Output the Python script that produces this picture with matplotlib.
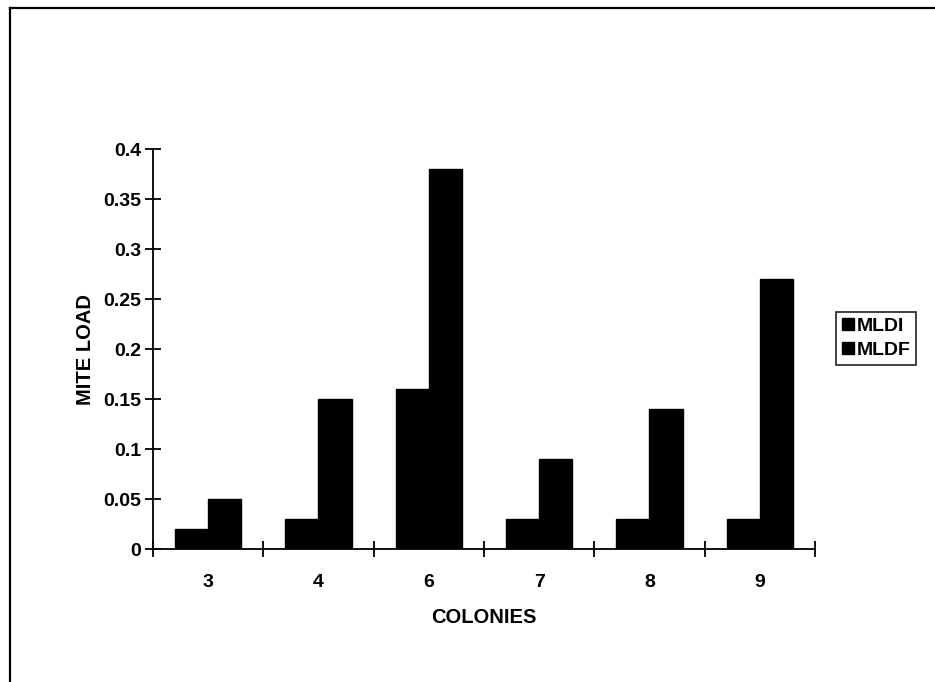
import numpy as np
import matplotlib
matplotlib.use('Agg')
import matplotlib.pyplot as plt
from matplotlib.lines import Line2D

# data
colonies = ['3', '4', '6', '7', '8', '9']
mldi = [0.02, 0.03, 0.16, 0.03, 0.03, 0.03]
mldf = [0.05, 0.15, 0.38, 0.09, 0.14, 0.27]

plt.rcParams['font.family'] = ['Liberation Sans', 'DejaVu Sans']

fig = plt.figure(figsize=(9.35, 6.82), dpi=100)
ax = fig.add_axes([0.1636, 0.195, 0.708, 0.5865])

x = np.arange(len(colonies))
w = 0.3
ax.bar(x - w / 2, mldi, w, color='black', edgecolor='black', label='MLDI')
ax.bar(x + w / 2, mldf, w, color='black', edgecolor='black', label='MLDF')

ax.set_xlim(-0.5, len(colonies) - 0.5)
ax.set_ylim(0, 0.4)
ax.set_yticks(np.arange(0, 0.401, 0.05))
ax.set_yticklabels(['0', '0.05', '0.1', '0.15', '0.2', '0.25', '0.3', '0.35', '0.4'])
ax.set_xticks(x)
ax.set_xticklabels(colonies)
ax.set_xticks(np.arange(-0.5, len(colonies)), minor=True)

for s in ['top', 'right']:
    ax.spines[s].set_visible(False)
for s in ['left', 'bottom']:
    ax.spines[s].set_linewidth(1.3)

ax.tick_params(axis='y', direction='inout', length=11, width=1.3, labelsize=14, pad=3)
ax.tick_params(axis='x', which='major', length=0, labelsize=14, pad=18)
ax.tick_params(axis='x', which='minor', direction='inout', length=11, width=1.3)
for lab in ax.get_xticklabels() + ax.get_yticklabels():
    lab.set_fontweight('bold')

ax.set_ylabel('MITE LOAD', fontsize=14.5, fontweight='bold', labelpad=6)
ax.set_xlabel('COLONIES', fontsize=14.5, fontweight='bold', labelpad=12)

leg = fig.legend(loc='upper left', bbox_to_anchor=(836 / 935, 1 - 312 / 682),
                 frameon=True, fancybox=False, edgecolor='black',
                 prop={'weight': 'bold', 'size': 14},
                 handlelength=0.6, handleheight=0.6, handletextpad=0.15,
                 borderpad=0.3, labelspacing=0.35, borderaxespad=0)
leg.get_frame().set_linewidth(1.3)

# outer chart frame (only left and top edges show)
fig.add_artist(Line2D([10 / 935, 10 / 935], [0, 1 - 8 / 682], color='black', lw=1.6, transform=fig.transFigure))
fig.add_artist(Line2D([10 / 935, 1], [1 - 8 / 682, 1 - 8 / 682], color='black', lw=1.6, transform=fig.transFigure))

fig.savefig('out.png', dpi=100)
